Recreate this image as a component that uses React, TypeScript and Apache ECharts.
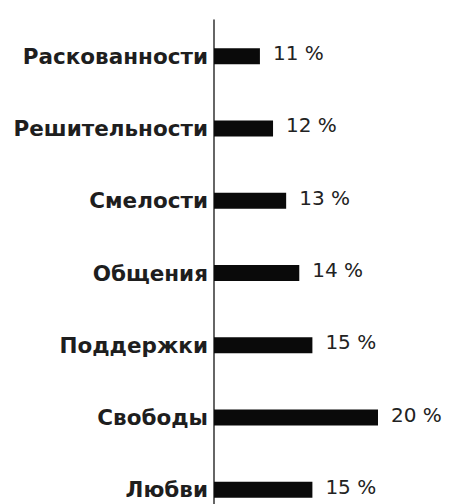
import React, { useEffect, useRef } from "react";
import * as echarts from "echarts";

const categories = [
  "Раскованности",
  "Решительности",
  "Смелости",
  "Общения",
  "Поддержки",
  "Свободы",
  "Любви",
];
const values = [11, 12, 13, 14, 15, 20, 15];

export default function App() {
  const ref = useRef<HTMLDivElement>(null);
  useEffect(() => {
    if (!ref.current) return;
    const chart = echarts.init(ref.current, undefined, { renderer: "svg" });
    chart.setOption({
      animation: false,
      backgroundColor: "#ffffff",
      grid: { left: 214, top: 20, width: 164, bottom: 4 },
      xAxis: {
        type: "value",
        min: 7.5,
        max: 20,
        show: false,
      },
      yAxis: {
        type: "category",
        data: categories,
        inverse: true,
        axisLine: { show: true, lineStyle: { color: "#333333", width: 1.5 } },
        axisTick: { show: false },
        splitLine: { show: false },
        axisLabel: {
          color: "#1e1e1e",
          fontSize: 21.5,
          fontWeight: "bold",
          fontFamily: "DejaVu Sans",
          margin: 6,
          padding: [4, 0, 0, 0],
        },
      },
      series: [
        {
          type: "bar",
          data: values,
          barWidth: 16,
          itemStyle: { color: "#0a0a0a" },
          label: {
            show: true,
            position: "right",
            distance: 13,
            offset: [0, -3],
            formatter: "{c} %",
            fontSize: 20,
            color: "#222222",
            fontFamily: "DejaVu Sans",
          },
        },
      ],
    });
    return () => chart.dispose();
  }, []);
  return (
    <div
      ref={ref}
      style={{ position: "fixed", left: 0, top: 0, width: 449, height: 530 }}
    />
  );
}
